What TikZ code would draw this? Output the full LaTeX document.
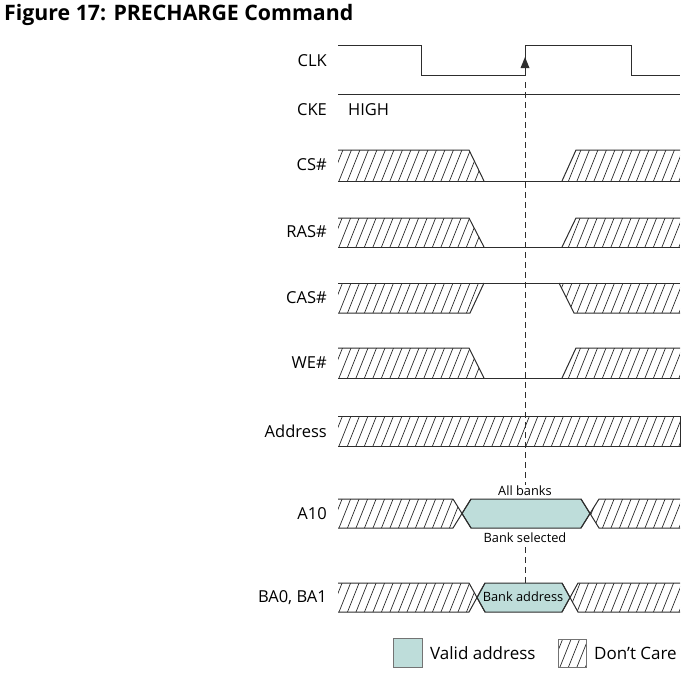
\documentclass[tikz,border=0pt]{standalone}
\usepackage{fontspec}
\setmainfont{Open Sans}
\definecolor{validc}{RGB}{190,221,218}
\definecolor{linec}{RGB}{45,45,45}
\tikzset{
  sig/.style={draw=linec, line width=1pt},
  hatchln/.style={draw=linec, line width=0.7pt},
  lbl/.style={anchor=east, inner sep=0pt, font=\fontsize{16.5}{19}\selectfont, text=black},
  small/.style={inner sep=0pt, font=\fontsize{12.8}{15}\selectfont, text=black},
  legtxt/.style={anchor=west, inner sep=0pt, font=\fontsize{17}{20}\selectfont, text=black},
  dashln/.style={draw=linec, line width=1pt, dash pattern=on 6pt off 4pt},
}
\newcommand\hatchpoly[3]{%
  \begin{scope}
    \clip #1;
    \foreach \hx in {320,328.5,...,690} \draw[hatchln] (\hx,#2+5) -- ++(16,-40);
  \end{scope}}
\begin{document}
\begin{tikzpicture}[x=1pt,y=-1pt]
\useasboundingbox (0,0) rectangle (687,673);
% title
\node[anchor=west, inner sep=0pt, font=\bfseries\fontsize{21.3}{24}\selectfont] (title) at (4,15) {Figure 17: PRECHARGE Command};
% labels
\node[lbl] (lclk) at (327,61) {CLK};
\node[lbl] (lcke) at (327,110) {CKE};
\node[anchor=west, inner sep=0pt, font=\fontsize{16.5}{19}\selectfont, text=black] (high) at (348,110) {HIGH};
\node[lbl] (lcs) at (327,165) {CS\#};
\node[lbl] (lras) at (327,232) {RAS\#};
\node[lbl] (lcas) at (327,298) {CAS\#};
\node[lbl] (lwe) at (327,363) {WE\#};
\node[lbl] (laddr) at (327,431) {Address};
\node[lbl] (la10) at (327,514) {A10};
\node[lbl] (lba) at (327,598) {BA0, BA1};
% CLK
\draw[sig] (338,45) -- (421,45) -- (421,75) -- (525,75) -- (525,45) -- (631,45) -- (631,75) -- (680,75);
\fill[linec] (525,57) -- (529.5,68) -- (520.5,68) -- cycle;
% CKE
\draw[sig] (338,94) -- (680,94);
% dashed
\coordinate (d1) at (525,82);
\coordinate (d2) at (525,485);
\coordinate (d3) at (525,547);
\coordinate (d4) at (525,583);
\draw[dashln] (d1) -- (d2);
\draw[dashln] (d3) -- (d4);
% CS#
\hatchpoly{(338,150) -- (469,150) -- (484,181) -- (338,181) -- cycle}{181}{150}
\hatchpoly{(562,181) -- (576,150) -- (680,150) -- (680,181) -- cycle}{181}{150}
\draw[sig] (338,150) -- (469,150) -- (484,181);
\draw[sig] (338,181) -- (680,181);
\draw[sig] (562,181) -- (576,150) -- (680,150);
% RAS#
\hatchpoly{(338,218) -- (469,218) -- (484,247) -- (338,247) -- cycle}{247}{218}
\hatchpoly{(562,247) -- (576,218) -- (680,218) -- (680,247) -- cycle}{247}{218}
\draw[sig] (338,218) -- (469,218) -- (484,247);
\draw[sig] (338,247) -- (680,247);
\draw[sig] (562,247) -- (576,218) -- (680,218);
% CAS#
\hatchpoly{(338,283) -- (484,283) -- (470,313) -- (338,313) -- cycle}{313}{283}
\hatchpoly{(559,283) -- (680,283) -- (680,313) -- (574,313) -- cycle}{313}{283}
\draw[sig] (338,283) -- (680,283);
\draw[sig] (338,313) -- (470,313) -- (484,283);
\draw[sig] (559,283) -- (574,313) -- (680,313);
% WE#
\hatchpoly{(338,348) -- (469,348) -- (484,378) -- (338,378) -- cycle}{378}{348}
\hatchpoly{(562,378) -- (576,348) -- (680,348) -- (680,378) -- cycle}{378}{348}
\draw[sig] (338,348) -- (469,348) -- (484,378);
\draw[sig] (338,378) -- (680,378);
\draw[sig] (562,378) -- (576,348) -- (680,348);
% Address
\hatchpoly{(338,416) rectangle (680,446)}{446}{416}
\draw[sig] (338,416) -- (680,416) -- (680,446) -- (338,446);
% A10
\hatchpoly{(338,499) -- (453,499) -- (462,513.5) -- (453,528) -- (338,528) -- cycle}{528}{499}
\hatchpoly{(599,499) -- (680,499) -- (680,528) -- (599,528) -- (590,513.5) -- cycle}{528}{499}
\draw[sig, fill=validc] (471,499) -- (581,499) -- (590,513.5) -- (581,528) -- (471,528) -- (462,513.5) -- cycle;
\draw[sig] (338,499) -- (453,499) -- (471,528);
\draw[sig] (338,528) -- (453,528) -- (471,499);
\draw[sig] (680,499) -- (599,499) -- (581,528);
\draw[sig] (680,528) -- (599,528) -- (581,499);
\node[small] (allb) at (525,491) {All banks};
\node[small] (banksel) at (525,538) {Bank selected};
% BA0, BA1
\hatchpoly{(338,583) -- (469,583) -- (477,597.5) -- (469,612) -- (338,612) -- cycle}{612}{583}
\hatchpoly{(578,583) -- (680,583) -- (680,612) -- (578,612) -- (570,597.5) -- cycle}{612}{583}
\draw[sig, fill=validc] (485,583) -- (562,583) -- (570,597.5) -- (562,612) -- (485,612) -- (477,597.5) -- cycle;
\draw[sig] (338,583) -- (469,583) -- (485,612);
\draw[sig] (338,612) -- (469,612) -- (485,583);
\draw[sig] (680,583) -- (578,583) -- (562,612);
\draw[sig] (680,612) -- (578,612) -- (562,583);
\node[small] (baddr) at (523,597) {Bank address};
% legend
\node[draw=black!55, line width=1pt, fill=validc, minimum width=29pt, minimum height=29pt, inner sep=0pt] (lgv) at (408,653) {};
\node[legtxt] (lgvt) at (430,653) {Valid address};
\hatchpoly{(558,639) rectangle (586,667)}{667}{639}
\node[draw=black!55, line width=1pt, minimum width=28pt, minimum height=28pt, inner sep=0pt] (lgh) at (572,653) {};
\node[legtxt] (lght) at (594,653) {Don’t Care};
\end{tikzpicture}
\end{document}
